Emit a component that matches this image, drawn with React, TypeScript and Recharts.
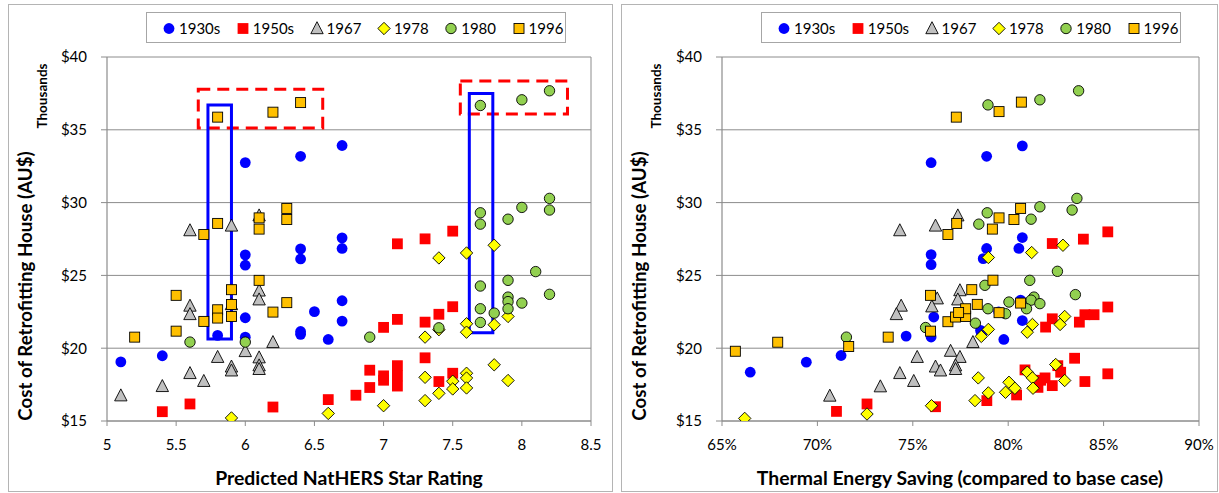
import React from 'react';
import { ScatterChart, Scatter, XAxis, YAxis, CartesianGrid, ReferenceArea, ReferenceLine, Legend } from 'recharts';

const FONT = 'Lato, "Open Sans", sans-serif';
const GRID = '#8c8c8c';

// ---------- categories & ticks
const seriesNames = ['1930s', '1950s', '1967', '1978', '1980', '1996'];
const starTicks = [5, 5.5, 6, 6.5, 7, 7.5, 8, 8.5];
const savingTicks = [65, 70, 75, 80, 85, 90];
const costTicks = [15, 20, 25, 30, 35, 40];

// ---------- left chart: predicted NatHERS star rating vs cost (thousand AU$)
const stars1930s = [5.1, 5.4, 5.8, 6.0, 6.0, 6.0, 6.0, 6.0, 6.4, 6.4, 6.4, 6.4, 6.4, 6.5, 6.6, 6.7, 6.7, 6.7, 6.7, 6.7];
const starCost1930s = [19.06, 19.48, 20.88, 32.75, 26.41, 25.7, 22.09, 20.76, 33.18, 26.82, 26.13, 21.15, 20.95, 22.51, 20.6, 33.92, 27.58, 26.85, 23.26, 21.86];

const stars1950s = [5.4, 5.6, 6.2, 6.6, 6.8, 6.9, 6.9, 7.0, 7.0, 7.0, 7.1, 7.1, 7.1, 7.1, 7.1, 7.3, 7.3, 7.3, 7.4, 7.4, 7.5, 7.5, 7.5];
const starCost1950s = [15.64, 16.17, 15.96, 16.47, 16.77, 18.49, 17.3, 21.43, 18.1, 17.8, 27.17, 21.98, 18.8, 18.1, 17.4, 27.51, 21.79, 19.34, 22.33, 17.71, 28.04, 22.85, 18.28];

const stars1967 = [5.1, 5.4, 5.6, 5.6, 5.6, 5.6, 5.7, 5.8, 5.9, 5.9, 5.9, 5.9, 6.0, 6.1, 6.1, 6.1, 6.1, 6.1, 6.1, 6.2];
const starCost1967 = [16.74, 17.38, 28.08, 22.9, 22.32, 18.27, 17.73, 19.38, 28.4, 23.0, 18.72, 18.45, 19.78, 29.1, 23.94, 23.33, 19.35, 18.8, 18.55, 20.4];

const stars1978 = [5.9, 6.6, 7.0, 7.3, 7.3, 7.3, 7.4, 7.4, 7.4, 7.5, 7.5, 7.6, 7.6, 7.6, 7.6, 7.6, 7.6, 7.8, 7.8, 7.8, 7.9, 7.9];
const starCost1978 = [15.21, 15.52, 16.05, 20.76, 18.0, 16.4, 26.2, 21.27, 16.9, 17.73, 17.2, 26.54, 21.68, 21.1, 18.28, 17.95, 17.27, 27.07, 21.61, 18.86, 22.18, 17.78];

const stars1980 = [5.6, 6.0, 6.9, 7.4, 7.7, 7.7, 7.7, 7.7, 7.7, 7.7, 7.8, 7.9, 7.9, 7.9, 7.9, 7.9, 8.0, 8.0, 8.0, 8.1, 8.2, 8.2, 8.2, 8.2];
const starCost1980 = [20.42, 20.42, 20.76, 21.4, 36.67, 29.3, 28.52, 24.27, 22.71, 21.77, 22.41, 28.86, 24.66, 23.51, 23.2, 22.71, 37.06, 29.67, 23.1, 25.26, 37.68, 30.29, 29.49, 23.7];

const stars1996 = [5.2, 5.5, 5.5, 5.7, 5.7, 5.8, 5.8, 5.8, 5.8, 5.9, 5.9, 5.9, 6.1, 6.1, 6.1, 6.2, 6.2, 6.3, 6.3, 6.3, 6.4];
const starCost1996 = [20.76, 23.63, 21.17, 27.81, 21.84, 35.87, 28.57, 22.64, 22.07, 24.02, 23.0, 22.18, 28.95, 28.18, 24.66, 36.21, 22.48, 29.6, 28.84, 23.13, 36.87];

// ---------- right chart: thermal energy saving (%) vs cost (thousand AU$)
const saving1930s = [66.48, 69.42, 71.24, 74.65, 75.96, 75.96, 75.96, 76.1, 75.96, 78.87, 78.87, 78.69, 78.55, 78.6, 79.5, 79.77, 80.74, 80.74, 80.56, 80.65, 80.74];
const savingCost1930s = [18.35, 19.04, 19.5, 20.83, 32.74, 26.43, 25.74, 22.14, 20.77, 33.18, 26.85, 26.15, 21.22, 20.98, 22.5, 20.6, 33.9, 27.6, 26.85, 23.3, 21.9];

const saving1950s = [71.0, 72.6, 76.19, 78.88, 80.44, 80.88, 81.56, 81.96, 81.93, 81.7, 82.31, 82.31, 82.6, 82.75, 82.31, 83.94, 83.73, 83.48, 84.02, 84.5, 84.02, 85.22, 85.22, 85.22];
const savingCost1950s = [15.66, 16.17, 15.98, 16.4, 16.79, 18.51, 17.31, 21.45, 17.96, 17.8, 27.19, 22.02, 18.8, 18.35, 17.43, 27.49, 21.79, 19.31, 22.3, 22.3, 17.71, 27.99, 22.83, 18.24];

const saving1967 = [70.65, 73.3, 74.32, 74.39, 74.14, 74.32, 75.05, 75.23, 76.19, 76.28, 76.0, 76.19, 76.45, 76.98, 77.36, 77.47, 77.36, 77.47, 77.24, 77.24, 78.15];
const savingCost1967 = [16.72, 17.36, 28.08, 22.9, 22.32, 18.27, 17.73, 19.38, 28.4, 23.4, 22.85, 18.72, 18.45, 19.8, 29.1, 23.96, 23.33, 19.38, 18.8, 18.55, 20.4];

const saving1978 = [66.19, 72.6, 75.98, 78.59, 78.43, 78.26, 78.96, 78.96, 78.96, 80.04, 80.35, 79.86, 81.23, 81.27, 81.0, 81.0, 81.27, 81.3, 82.87, 82.72, 82.49, 82.96, 82.96];
const savingCost1978 = [15.18, 15.48, 16.05, 20.81, 17.96, 16.4, 26.23, 21.29, 16.93, 17.66, 17.25, 16.97, 26.57, 21.63, 21.1, 18.35, 17.96, 17.25, 27.07, 21.63, 18.88, 22.18, 17.78];

const saving1980 = [71.52, 75.67, 78.94, 81.66, 83.69, 78.9, 78.46, 81.2, 81.66, 83.6, 83.35, 78.78, 81.13, 82.58, 83.52, 80.04, 81.35, 81.2, 81.66, 78.94, 79.86, 80.96, 78.28];
const savingCost1980 = [20.76, 21.42, 36.71, 37.06, 37.68, 29.3, 28.52, 28.86, 29.71, 30.29, 29.49, 24.32, 24.66, 25.28, 23.68, 23.17, 23.51, 23.3, 23.06, 22.71, 22.37, 22.71, 21.72];

const saving1996 = [65.7, 67.92, 71.64, 73.71, 75.93, 75.93, 76.84, 77.24, 77.77, 77.77, 77.4, 78.38, 78.09, 79.2, 79.52, 80.65, 77.28, 79.52, 80.69, 76.84, 77.3, 79.17, 79.52, 80.3, 80.65];
const savingCost1996 = [19.79, 20.41, 20.12, 20.76, 23.63, 21.17, 21.82, 22.14, 22.18, 22.71, 22.45, 23.01, 24.02, 24.67, 22.44, 23.1, 35.87, 36.25, 36.9, 27.81, 28.57, 28.18, 28.95, 28.84, 29.6];

// ---------- highlight boxes on the left chart (data coordinates)
const dashedBoxStarsX = [[5.66, 6.56], [7.555, 8.33]];
const dashedBoxCostY = [[35.13, 37.78], [36.08, 38.36]];
const solidBoxStarsX = [[5.73, 5.9], [7.62, 7.79]];
const solidBoxCostY = [[20.64, 36.7], [21.06, 37.5]];

type Kind = 'circle' | 'square' | 'triangle' | 'diamond';
interface SeriesStyle { kind: Kind; fill: string; stroke: string; }

const seriesStyles: SeriesStyle[] = [
  { kind: 'circle', fill: '#0000FF', stroke: 'none' },
  { kind: 'square', fill: '#FF0000', stroke: 'none' },
  { kind: 'triangle', fill: '#C0C0C0', stroke: '#000000' },
  { kind: 'diamond', fill: '#FFFF00', stroke: '#000000' },
  { kind: 'circle', fill: '#92D050', stroke: '#000000' },
  { kind: 'square', fill: '#FFC000', stroke: '#000000' },
];

const zip = (xs: number[], ys: number[]) => xs.map((x, i) => ({ x, y: ys[i] }));

const leftData = [
  zip(stars1930s, starCost1930s),
  zip(stars1950s, starCost1950s),
  zip(stars1967, starCost1967),
  zip(stars1978, starCost1978),
  zip(stars1980, starCost1980),
  zip(stars1996, starCost1996),
];
const rightData = [
  zip(saving1930s, savingCost1930s),
  zip(saving1950s, savingCost1950s),
  zip(saving1967, savingCost1967),
  zip(saving1978, savingCost1978),
  zip(saving1980, savingCost1980),
  zip(saving1996, savingCost1996),
];

function Marker({ s, cx, cy }: { s: SeriesStyle; cx: number; cy: number }) {
  const sw = s.stroke === 'none' ? 0 : 0.9;
  if (s.kind === 'circle') {
    const r = s.stroke === 'none' ? 5.4 : 5.2;
    return <circle cx={cx} cy={cy} r={r} fill={s.fill} stroke={s.stroke} strokeWidth={sw} />;
  }
  if (s.kind === 'square') {
    const h = s.stroke === 'none' ? 5.4 : 5;
    return <rect x={cx - h} y={cy - h} width={2 * h} height={2 * h} fill={s.fill} stroke={s.stroke} strokeWidth={sw} />;
  }
  if (s.kind === 'triangle') {
    const pts = `${cx},${cy - 6.8} ${cx + 6.2},${cy + 5.2} ${cx - 6.2},${cy + 5.2}`;
    return <polygon points={pts} fill={s.fill} stroke={s.stroke} strokeWidth={sw} />;
  }
  const pts = `${cx},${cy - 6.2} ${cx + 6.2},${cy} ${cx},${cy + 6.2} ${cx - 6.2},${cy}`;
  return <polygon points={pts} fill={s.fill} stroke={s.stroke} strokeWidth={sw} />;
}

const makeShape = (s: SeriesStyle) => (props: any) => {
  const { cx, cy } = props;
  if (cx == null || cy == null || isNaN(cx) || isNaN(cy)) return <g />;
  return <Marker s={s} cx={cx} cy={cy} />;
};

const LegendBox = (props: any) => {
  const payload: any[] = props && props.payload && props.payload.length ? props.payload : seriesNames.map((n) => ({ value: n }));
  return (
    <div
      style={{
        boxSizing: 'border-box', width: 420, height: 31, border: '1px solid #a6a6a6', background: '#fff',
        display: 'flex', alignItems: 'center', paddingLeft: 15, gap: 15.5,
        fontFamily: FONT, fontSize: 15, color: '#000', whiteSpace: 'nowrap',
      }}
    >
      {payload.map((entry: any) => {
        const idx = seriesNames.indexOf(String(entry.value));
        const s = seriesStyles[idx >= 0 ? idx : 0];
        return (
          <div key={String(entry.value)} style={{ display: 'flex', alignItems: 'center' }}>
            <svg width={14} height={16} style={{ display: 'block' }}>
              <Marker s={s} cx={7} cy={8.5} />
            </svg>
            <span style={{ marginLeft: 3 }}>{entry.value}</span>
          </div>
        );
      })}
    </div>
  );
};

const tickStyle = { fontFamily: FONT, fontSize: 15, fill: '#000' };

function Panel(props: {
  data: { x: number; y: number }[][];
  xTicks: number[];
  xFmt: (v: number) => string;
  width: number;
  margin: { top: number; right: number; bottom: number; left: number };
  legendLeft: number;
  boxes: boolean;
}) {
  const { data, xTicks, xFmt, width, margin, legendLeft, boxes } = props;
  const xMin = xTicks[0];
  const xMax = xTicks[xTicks.length - 1];
  return (
    <ScatterChart width={width} height={493} margin={margin}>
      <CartesianGrid horizontal vertical={false} stroke={GRID} strokeWidth={1} />
      <XAxis
        type="number" dataKey="x" domain={[xMin, xMax]} ticks={xTicks} allowDataOverflow
        tickFormatter={xFmt} tick={tickStyle} tickSize={5} tickMargin={13} height={30}
        axisLine={{ stroke: GRID, strokeWidth: 1.2 }} tickLine={{ stroke: GRID }}
      />
      <YAxis
        type="number" dataKey="y" domain={[15, 40]} ticks={costTicks} allowDataOverflow
        tickFormatter={(v: number) => `$${v}`} tick={tickStyle} tickSize={6} tickMargin={14} width={60}
        axisLine={{ stroke: GRID, strokeWidth: 1.2 }} tickLine={{ stroke: GRID }}
      />
      <ReferenceLine x={xMax} stroke={GRID} strokeWidth={1} />
      {seriesNames.map((name, i) => (
        <Scatter
          key={name} name={name} data={data[i]} shape={makeShape(seriesStyles[i])}
          fill={seriesStyles[i].fill} isAnimationActive={false}
        />
      ))}
      {boxes &&
        dashedBoxStarsX.map((xr, i) => (
          <ReferenceArea
            key={'d' + i} x1={xr[0]} x2={xr[1]} y1={dashedBoxCostY[i][0]} y2={dashedBoxCostY[i][1]}
            fill="none" fillOpacity={0} stroke="#FF0000" strokeWidth={3} strokeDasharray="12 7" ifOverflow="visible"
          />
        ))}
      {boxes &&
        solidBoxStarsX.map((xr, i) => (
          <ReferenceArea
            key={'s' + i} x1={xr[0]} x2={xr[1]} y1={solidBoxCostY[i][0]} y2={solidBoxCostY[i][1]}
            fill="none" fillOpacity={0} stroke="#0000FF" strokeWidth={3} ifOverflow="visible"
          />
        ))}
      <Legend
        layout="horizontal" verticalAlign="middle" align="center" content={LegendBox}
        wrapperStyle={{ left: legendLeft, top: 12, width: 420, height: 31 }}
      />
    </ScatterChart>
  );
}

export default function App() {
  return (
    <div style={{ position: 'absolute', left: 0, top: 0, width: 1219, height: 493, background: '#fff', overflow: 'hidden', fontFamily: FONT }}>
      <div style={{ position: 'absolute', left: 8, top: 4, width: 605, height: 488, border: '1px solid #b4b4b4', boxSizing: 'border-box' }} />
      <div style={{ position: 'absolute', left: 621, top: 4, width: 597, height: 488, border: '1px solid #b4b4b4', boxSizing: 'border-box' }} />
      <div style={{ position: 'absolute', left: 0, top: 0 }}>
        <Panel
          data={leftData} xTicks={starTicks} xFmt={(v) => String(v)} width={612}
          margin={{ top: 57, right: 21, bottom: 42, left: 47 }} legendLeft={146} boxes
        />
      </div>
      <div style={{ position: 'absolute', left: 612, top: 0 }}>
        <Panel
          data={rightData} xTicks={savingTicks} xFmt={(v) => `${v}%`} width={607}
          margin={{ top: 57, right: 20, bottom: 42, left: 50 }} legendLeft={149} boxes={false}
        />
      </div>
      <svg width={1219} height={493} style={{ position: 'absolute', left: 0, top: 0, pointerEvents: 'none' }}>
        <g fontFamily={FONT} fontWeight="bold" fill="#000">
          <text transform="translate(32,420.7) rotate(-90)" fontSize={18.7} textAnchor="start">Cost of Retrofitting House (AU$)</text>
          <text transform="translate(646,420.7) rotate(-90)" fontSize={18.7} textAnchor="start">Cost of Retrofitting House (AU$)</text>
          <text transform="translate(47,96) rotate(-90)" fontSize={13.5} textAnchor="middle">Thousands</text>
          <text transform="translate(661,96) rotate(-90)" fontSize={13.5} textAnchor="middle">Thousands</text>
          <text x={349} y={485} fontSize={19.4} textAnchor="middle">Predicted NatHERS Star Rating</text>
          <text x={960} y={485} fontSize={19.4} textAnchor="middle">Thermal Energy Saving (compared to base case)</text>
        </g>
      </svg>
    </div>
  );
}
